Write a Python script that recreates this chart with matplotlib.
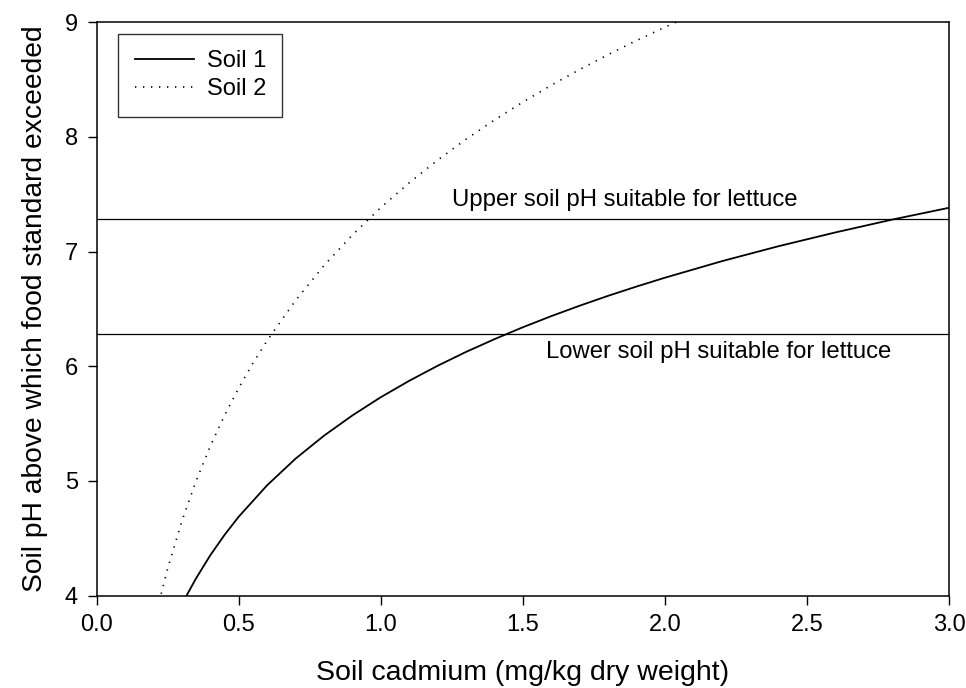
import matplotlib
matplotlib.use("Agg")
import matplotlib.pyplot as plt

# values
soil1_cd = [0.31, 0.32, 0.35, 0.40, 0.45, 0.50, 0.60, 0.70, 0.80, 0.90, 1.00,
            1.10, 1.20, 1.30, 1.40, 1.50, 1.60, 1.70, 1.80, 1.90, 2.00, 2.20,
            2.40, 2.60, 2.80, 3.00]
soil1_ph = [3.969, 4.016, 4.151, 4.352, 4.529, 4.688, 4.962, 5.194, 5.394,
            5.571, 5.730, 5.873, 6.004, 6.125, 6.236, 6.340, 6.437, 6.528,
            6.614, 6.695, 6.772, 6.916, 7.047, 7.167, 7.279, 7.382]

soil2_cd = [0.22, 0.25, 0.30, 0.35, 0.40, 0.45, 0.50, 0.55, 0.60, 0.70, 0.80,
            0.90, 1.00, 1.10, 1.20, 1.30, 1.40, 1.50, 1.60, 1.70, 1.80, 1.90,
            2.00, 2.05]
soil2_ph = [3.947, 4.237, 4.651, 5.001, 5.304, 5.571, 5.811, 6.027, 6.224,
            6.574, 6.878, 7.145, 7.384, 7.600, 7.798, 7.980, 8.148, 8.304,
            8.451, 8.588, 8.718, 8.841, 8.957, 9.013]

upper_ph = 7.28
lower_ph = 6.28

plt.rcParams['font.family'] = ['Liberation Sans', 'DejaVu Sans']

fig = plt.figure(figsize=(9.66, 6.88), dpi=100)
ax = fig.add_axes([0.1001, 0.1344, 0.8823, 0.8332])

ax.plot(soil1_cd, soil1_ph, color='black', lw=1.3, label='Soil 1')
ax.plot(soil2_cd, soil2_ph, color='black', lw=1.2, linestyle=(0, (0.8, 4.0)),
        label='Soil 2')
ax.axhline(upper_ph, color='black', lw=0.9)
ax.axhline(lower_ph, color='black', lw=0.9)

ax.text(1.25, 7.45, 'Upper soil pH suitable for lettuce', fontsize=17.2,
        va='center', ha='left')
ax.text(1.582, 6.125, 'Lower soil pH suitable for lettuce', fontsize=17.2,
        va='center', ha='left')

ax.set_xlim(0, 3)
ax.set_ylim(4, 9)
ax.set_xticks([0.0, 0.5, 1.0, 1.5, 2.0, 2.5, 3.0])
ax.set_xticklabels(['0.0', '0.5', '1.0', '1.5', '2.0', '2.5', '3.0'])
ax.set_yticks([4, 5, 6, 7, 8, 9])
ax.tick_params(direction='out', length=6.5, width=1, labelsize=17, pad=7,
               top=False, right=False)
for s in ax.spines.values():
    s.set_linewidth(1.1)

ax.set_xlabel('Soil cadmium (mg/kg dry weight)', fontsize=20.5, labelpad=17)
ax.set_ylabel('Soil pH above which food standard exceeded', fontsize=20.3,
              labelpad=12)

leg = ax.legend(loc='upper left', bbox_to_anchor=(0.025, 0.98), fontsize=17,
                frameon=True, fancybox=False, edgecolor='black',
                handlelength=2.5, borderpad=0.7, labelspacing=0.25,
                handletextpad=0.55, borderaxespad=0)
leg.get_frame().set_linewidth(1)

fig.savefig('out.png', dpi=100)
